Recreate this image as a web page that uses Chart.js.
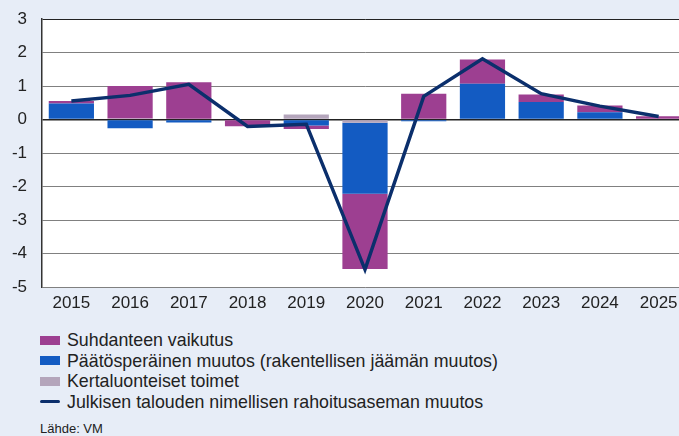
<!DOCTYPE html>
<html>
<head>
<meta charset="utf-8">
<script src="https://cdn.jsdelivr.net/npm/chart.js@4/dist/chart.umd.min.js"></script>
<style>
    body {
        margin: 0;
        width: 679px;
        height: 436px;
        overflow: hidden;
        background: #e7edf7;
        font-family: "Liberation Sans", Arial, sans-serif;
        color: #222;
    }
    #wrap {
        position: absolute;
        left: 0;
        top: 0;
        width: 690px;
        height: 320px;
    }
    #legend {
        position: absolute;
        left: 40px;
        top: 330px;
        font-size: 17.8px;
        line-height: 20.5px;
    }
    .item { display: flex; align-items: center; white-space: nowrap; }
    .box { width: 20px; height: 9px; margin-right: 7px; }
    .ln { width: 20px; height: 3px; margin-right: 7px; border-radius: 2px; }
    #source {
        position: absolute;
        left: 40px;
        top: 421px;
        font-size: 13px;
    }
</style>
</head>
<body>
<div id="wrap"><canvas id="chart"></canvas></div>
<div id="legend"></div>
<div id="source">Lähde: VM</div>
<script>
const years = ['2015', '2016', '2017', '2018', '2019', '2020', '2021', '2022', '2023', '2024', '2025'];
const suhdanne = [0.07, 0.97, 1.11, -0.18, -0.10, -2.24, 0.77, 0.72, 0.23, 0.20, 0.10];
const paatosperainen = [0.48, -0.26, -0.09, 0, -0.18, -2.12, -0.05, 1.07, 0.52, 0.22, 0];
const kertaluonteiset = [0, 0.03, 0, -0.02, 0.15, -0.10, 0, 0, 0, 0, 0];
const rahoitusasema = [0.55, 0.72, 1.05, -0.21, -0.14, -4.48, 0.69, 1.81, 0.77, 0.40, 0.09];

const colPurple = '#9d3f91';
const colBlue = '#135bc2';
const colGrey = '#b4a5bb';
const colLine = '#0b2f6c';

const legendItems = [
    { label: 'Suhdanteen vaikutus', color: colPurple, type: 'box' },
    { label: 'Päätösperäinen muutos (rakentellisen jäämän muutos)', color: colBlue, type: 'box' },
    { label: 'Kertaluonteiset toimet', color: colGrey, type: 'box' },
    { label: 'Julkisen talouden nimellisen rahoitusaseman muutos', color: colLine, type: 'ln' }
];

const legend = document.getElementById('legend');
legendItems.forEach(it => {
    const row = document.createElement('div');
    row.className = 'item';
    row.innerHTML = '<span class="' + it.type + '" style="background:' + it.color + '"></span>' + it.label;
    legend.appendChild(row);
});

const tickFont = { family: '"Liberation Sans", Arial, sans-serif', size: 17 };

new Chart(document.getElementById('chart'), {
    type: 'bar',
    data: {
        labels: years,
        datasets: [
            {
                type: 'line',
                label: 'Julkisen talouden nimellisen rahoitusaseman muutos',
                data: rahoitusasema,
                borderColor: colLine,
                borderWidth: 3.5,
                pointRadius: 0,
                tension: 0,
                order: 0
            },
            {
                label: 'Kertaluonteiset toimet',
                data: kertaluonteiset,
                backgroundColor: colGrey,
                order: 1
            },
            {
                label: 'Päätösperäinen muutos (rakentellisen jäämän muutos)',
                data: paatosperainen,
                backgroundColor: colBlue,
                order: 1
            },
            {
                label: 'Suhdanteen vaikutus',
                data: suhdanne,
                backgroundColor: colPurple,
                order: 1
            }
        ]
    },
    options: {
        responsive: true,
        maintainAspectRatio: false,
        animation: false,
        layout: { padding: { top: 19, right: 2, left: 0, bottom: 0 } },
        datasets: {
            bar: { categoryPercentage: 1, barPercentage: 0.77 }
        },
        scales: {
            x: {
                stacked: true,
                grid: { display: false, drawTicks: false },
                border: { display: false },
                ticks: { color: '#222', font: tickFont, padding: 6, maxRotation: 0 },
                afterFit: scale => { scale.height = 33; }
            },
            y: {
                stacked: true,
                min: -5,
                max: 3,
                ticks: { stepSize: 1, color: '#222', font: tickFont, padding: 15 },
                grid: {
                    drawTicks: false,
                    color: ctx => (ctx.tick && (ctx.tick.value === 0 || ctx.tick.value === 3)) ? '#222' : '#808080',
                    lineWidth: ctx => (ctx.tick && ctx.tick.value === 0) ? 1.5 : 1
                },
                border: { display: true, color: '#333', width: 1.5 },
                afterFit: scale => {
                    scale.width = 42;
                    scale.paddingTop = 0;
                    scale.paddingBottom = 0;
                }
            }
        },
        plugins: {
            legend: { display: false },
            tooltip: { enabled: false }
        }
    },
    plugins: [{
        id: 'plotBg',
        beforeDraw(chart) {
            const a = chart.chartArea;
            const c = chart.ctx;
            c.save();
            c.fillStyle = '#ffffff';
            c.fillRect(a.left, a.top, a.right - a.left, a.bottom - a.top);
            c.restore();
        }
    }]
});
</script>
</body>
</html>
